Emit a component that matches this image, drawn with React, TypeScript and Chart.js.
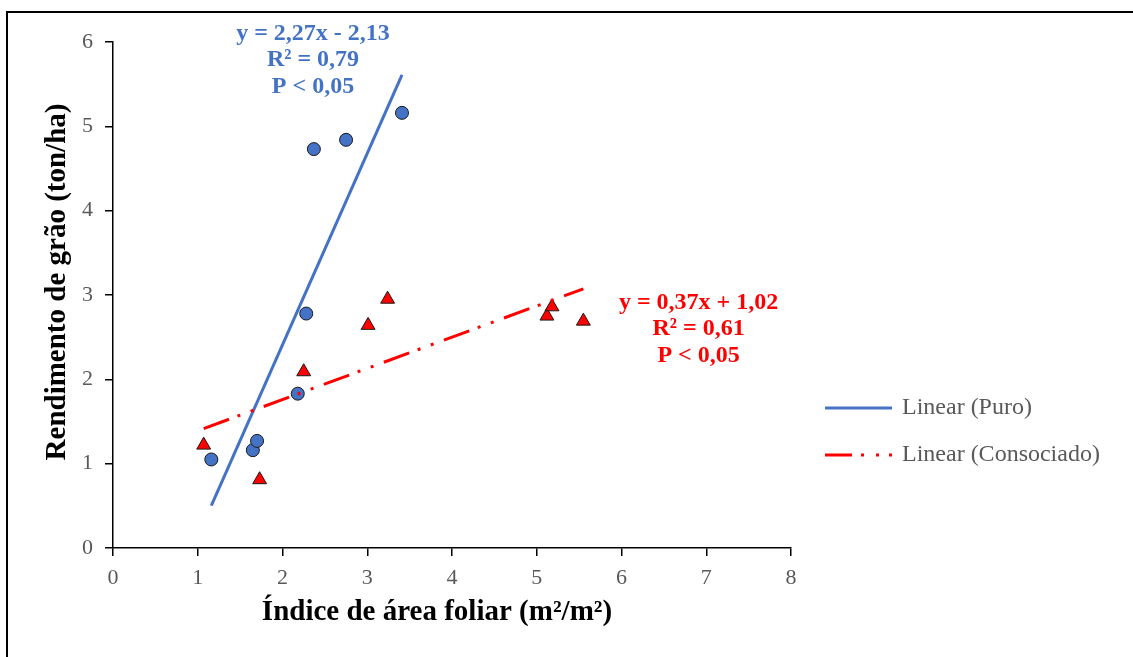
import React, { useEffect, useRef } from "react";
import { Chart, registerables } from "chart.js";

Chart.register(...registerables);

// ---- Data ----
const puroX = [1.16, 1.65, 1.7, 2.18, 2.28, 2.37, 2.75, 3.41];
const puroY = [1.05, 1.16, 1.27, 1.83, 2.78, 4.73, 4.84, 5.16];
const consX = [1.07, 1.73, 2.25, 3.01, 3.24, 5.12, 5.18, 5.55];
const consY = [1.22, 0.81, 2.09, 2.64, 2.95, 2.75, 2.86, 2.69];

// Trend line coefficients (slope, intercept) as printed on the chart
const puroFit = [2.27, -2.13];
const consFit = [0.37, 1.02];

const puroLabel = ["y = 2,27x - 2,13", "R² = 0,79", "P < 0,05"];
const consLabel = ["y = 0,37x + 1,02", "R² = 0,61", "P < 0,05"];
const legendLabels = ["Linear (Puro)", "Linear (Consociado)"];

const xTitle = "Índice de área foliar (m²/m²)";
const yTitle = "Rendimento de grão (ton/ha)";

const BLUE = "#4472C4";
const RED = "#FF0000";
const GRAY = "#595959";
const SERIF = "'Liberation Serif', 'Times New Roman', serif";
const RED_DASH = [27, 9, 3, 11, 3, 11];

function fitLine(xs: number[], fit: number[]) {
  const lo = Math.min(...xs);
  const hi = Math.max(...xs);
  return [
    { x: lo, y: fit[0] * lo + fit[1] },
    { x: hi, y: fit[0] * hi + fit[1] },
  ];
}

const decorPlugin = {
  id: "decor",
  beforeDraw(chart: any) {
    const ctx = chart.ctx;
    ctx.save();
    ctx.fillStyle = "#ffffff";
    ctx.fillRect(0, 0, chart.width, chart.height);
    ctx.fillStyle = "#000000";
    ctx.fillRect(6, 11, chart.width, 2);
    ctx.fillRect(6, 11, 2, chart.height);
    ctx.restore();
  },
  afterDraw(chart: any) {
    const ctx = chart.ctx;
    const xs = chart.scales.x;
    const ys = chart.scales.y;
    ctx.save();
    ctx.textAlign = "center";
    ctx.textBaseline = "middle";

    // Axis titles
    ctx.fillStyle = "#000000";
    ctx.font = `bold 29px ${SERIF}`;
    ctx.fillText(xTitle, 437, 613);
    ctx.save();
    ctx.translate(58, 282);
    ctx.rotate(-Math.PI / 2);
    ctx.fillText(yTitle, 0, 0);
    ctx.restore();

    ctx.font = `bold 24px ${SERIF}`;
    // Puro annotation
    ctx.fillStyle = BLUE;
    let cx = xs.getPixelForValue(2.36);
    let cy = ys.getPixelForValue(6.1);
    puroLabel.forEach((t, i) => ctx.fillText(t, cx, cy + i * 26.5));
    // Consociado annotation
    ctx.fillStyle = RED;
    cx = xs.getPixelForValue(6.91);
    cy = ys.getPixelForValue(2.91);
    consLabel.forEach((t, i) => ctx.fillText(t, cx, cy + i * 26.5));

    // Legend
    const lx = 825;
    const ly = [408, 455];
    ctx.lineWidth = 3;
    ctx.lineCap = "butt";
    ctx.strokeStyle = BLUE;
    ctx.beginPath();
    ctx.moveTo(lx, ly[0]);
    ctx.lineTo(lx + 67, ly[0]);
    ctx.stroke();
    ctx.strokeStyle = RED;
    ctx.setLineDash([27, 9, 3, 12, 3, 10, 3, 10]);
    ctx.beginPath();
    ctx.moveTo(lx, ly[1]);
    ctx.lineTo(lx + 67, ly[1]);
    ctx.stroke();
    ctx.setLineDash([]);
    ctx.font = `24px ${SERIF}`;
    ctx.fillStyle = GRAY;
    ctx.textAlign = "left";
    legendLabels.forEach((t, i) => ctx.fillText(t, 902, ly[i]));
    ctx.restore();
  },
};

export default function App() {
  const ref = useRef<HTMLCanvasElement | null>(null);
  useEffect(() => {
    if (!ref.current) return;
    const chart = new Chart(ref.current, {
      type: "scatter",
      data: {
        datasets: [
          {
            label: "Puro",
            data: puroX.map((x, i) => ({ x, y: puroY[i] })),
            backgroundColor: BLUE,
            borderColor: "#1a1a1a",
            borderWidth: 1,
            pointRadius: 6.5,
            pointStyle: "circle",
            order: 3,
          },
          {
            label: "Consociado",
            data: consX.map((x, i) => ({ x, y: consY[i] })),
            backgroundColor: RED,
            borderColor: "#1a1a1a",
            borderWidth: 1,
            pointRadius: 8,
            pointStyle: "triangle",
            order: 3,
          },
          {
            type: "line",
            label: legendLabels[0],
            data: fitLine(puroX, puroFit),
            borderColor: BLUE,
            borderWidth: 3,
            pointRadius: 0,
            showLine: true,
            fill: false,
            order: 2,
          } as any,
          {
            type: "line",
            label: legendLabels[1],
            data: fitLine(consX, consFit),
            borderColor: RED,
            borderWidth: 3,
            borderDash: RED_DASH,
            pointRadius: 0,
            showLine: true,
            fill: false,
            order: 1,
          } as any,
        ],
      },
      options: {
        animation: false,
        responsive: false,
        layout: { padding: { left: 0, top: 42, right: 342, bottom: 0 } },
        plugins: {
          legend: { display: false },
          tooltip: { enabled: false },
        },
        scales: {
          x: {
            type: "linear",
            min: 0,
            max: 8,
            ticks: {
              stepSize: 1,
              color: GRAY,
              font: { family: SERIF, size: 22 },
              padding: 9,
            },
            grid: {
              drawOnChartArea: false,
              color: "#000000",
              tickLength: 8,
              lineWidth: 1.5,
            },
            border: { color: "#000000", width: 1.5 },
            title: { display: false },
            afterFit(scale: any) {
              scale.height = 109;
            },
          },
          y: {
            type: "linear",
            min: 0,
            max: 6,
            ticks: {
              stepSize: 1,
              color: GRAY,
              font: { family: SERIF, size: 22 },
              padding: 12,
            },
            grid: {
              drawOnChartArea: false,
              color: "#000000",
              tickLength: 8,
              lineWidth: 1.5,
            },
            border: { color: "#000000", width: 1.5 },
            title: { display: false },
            afterFit(scale: any) {
              scale.width = 113;
            },
          },
        },
      },
      plugins: [decorPlugin],
    });
    return () => chart.destroy();
  }, []);
  return (
    <div style={{ position: "fixed", left: 0, top: 0, width: 1133, height: 657 }}>
      <canvas ref={ref} width={1133} height={657} style={{ display: "block" }} />
    </div>
  );
}
